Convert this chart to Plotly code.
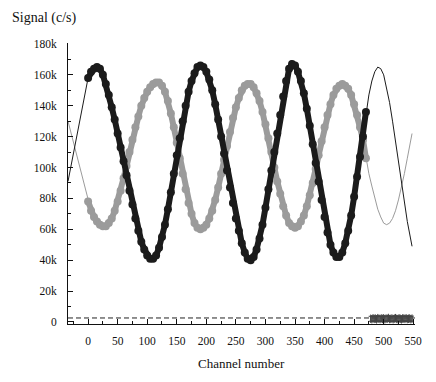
import plotly.graph_objects as go

# channel grid of the measured points (every 5 channels)
channels = list(range(0, 475, 5))

# measured signal, k c/s
black_signal = [158, 162, 164, 165, 164, 160, 154, 147, 139, 131,
                122, 113, 104, 95, 85, 76, 67, 59, 52, 47,
                43, 41, 41, 43, 48, 55, 63, 73, 84, 96,
                108, 119, 130, 140, 149, 156, 161, 165, 166, 165,
                162, 157, 150, 141, 131, 120, 109, 98, 87, 77,
                67, 59, 51, 45, 41, 40, 42, 47, 54, 63,
                74, 86, 98, 110, 122, 134, 146, 156, 164, 167,
                166, 162, 156, 148, 138, 127, 115, 103, 91, 79,
                68, 58, 50, 45, 42, 42, 45, 51, 59, 69,
                81, 94, 107, 120, 136]
gray_signal = [78, 72, 68, 65, 63, 62, 62, 64, 67, 72,
               78, 85, 93, 101, 110, 118, 126, 133, 140, 145,
               149, 152, 154, 155, 155, 153, 149, 143, 135, 126,
               116, 106, 96, 86, 77, 70, 64, 61, 60, 61,
               63, 67, 72, 79, 87, 96, 105, 114, 123, 132,
               139, 145, 150, 153, 154, 154, 152, 148, 143, 136,
               128, 119, 110, 100, 91, 83, 75, 69, 64, 62,
               61, 62, 65, 69, 75, 82, 90, 99, 108, 117,
               126, 134, 141, 147, 151, 153, 154, 153, 151, 147,
               141, 134, 126, 118, 106]

# fitted curves outside the measured range
fit_left_ch = [-34]
black_fit_left = [91]
gray_fit_left = [130]
fit_right_ch = [475, 480, 485, 490, 495, 500, 505, 510, 515, 520,
                525, 530, 535, 540, 545, 548]
black_fit_right = [147, 156, 162, 165, 164, 160, 152, 142, 130, 117,
                   103, 89, 76, 65, 55, 49]
gray_fit_right = [96, 88, 80, 73, 68, 64, 63, 64, 67, 72,
                  79, 87, 96, 106, 116, 122]

# background channels near zero
resid_ch = list(range(478, 550, 2))
resid_signal = [2.1, 1.8, 2.4, 2.0, 2.2, 1.7, 2.5, 2.1, 1.9, 2.3,
                2.0, 2.4, 1.8, 2.2, 2.1, 2.6, 1.9, 2.0, 2.3, 1.8,
                2.2, 2.5, 2.0, 1.9, 2.4, 2.1, 1.7, 2.3, 2.2, 2.0,
                2.4, 1.9, 2.1, 2.3, 1.8, 2.2]
resid_err = 1.6
baseline_level = 2.6

y_ticks = list(range(0, 181, 20))
y_labels = ["0"] + [f"{v}k" for v in y_ticks[1:]]
x_ticks = list(range(0, 551, 50))

BLACK = "#1b1b1b"
GRAY = "#9b9b9b"
FONT = "Liberation Serif"

k = 1000
fig = go.Figure()

fig.add_trace(go.Scatter(
    x=[-34, 553], y=[baseline_level * k] * 2, mode="lines",
    line=dict(color="#222", width=1, dash="5px,3px"), hoverinfo="skip"))

# thin fitted lines (hidden under the markers in the middle)
fig.add_trace(go.Scatter(
    x=fit_left_ch + channels + fit_right_ch,
    y=[v * k for v in gray_fit_left + gray_signal + gray_fit_right],
    mode="lines", line=dict(color=GRAY, width=1)))
fig.add_trace(go.Scatter(
    x=fit_left_ch + channels + fit_right_ch,
    y=[v * k for v in black_fit_left + black_signal + black_fit_right],
    mode="lines", line=dict(color=BLACK, width=1)))

fig.add_trace(go.Scatter(
    x=channels, y=[v * k for v in gray_signal], mode="lines+markers",
    line=dict(color=GRAY, width=6), marker=dict(color=GRAY, size=8)))
fig.add_trace(go.Scatter(
    x=channels, y=[v * k for v in black_signal], mode="lines+markers",
    line=dict(color=BLACK, width=6), marker=dict(color=BLACK, size=8)))

fig.add_trace(go.Scatter(
    x=resid_ch, y=[v * k for v in resid_signal], mode="markers",
    marker=dict(color="#444", size=6, symbol="line-ns-open", line=dict(width=1, color="#444")),
    error_y=dict(type="constant", value=resid_err * k, color="#444", thickness=1, width=2)))

fig.update_layout(
    width=436, height=382, showlegend=False,
    plot_bgcolor="white", paper_bgcolor="white",
    margin=dict(l=60, r=29, t=35, b=66),
    font=dict(family=FONT, size=11.5, color="#111"),
    annotations=[
        dict(text="Signal (c/s)", xref="paper", yref="paper", x=-0.167, y=1.089,
             xanchor="left", yanchor="middle", showarrow=False,
             font=dict(family=FONT, size=14, color="#111")),
        dict(text="Channel number", xref="paper", yref="paper", x=0.501, y=-0.139,
             xanchor="center", yanchor="middle", showarrow=False,
             font=dict(family=FONT, size=13, color="#111")),
    ],
)
fig.update_xaxes(
    range=[-34, 553], tickvals=x_ticks, ticks="inside", ticklen=5, tickcolor="#111",
    showline=True, linecolor="#111", linewidth=1, showgrid=False, zeroline=False,
    ticklabelstandoff=6,
    minor=dict(ticks="inside", dtick=25, tick0=0, ticklen=3, tickcolor="#111", showgrid=False))
fig.update_yaxes(
    range=[-1300, 180600], tickvals=[v * k for v in y_ticks], ticktext=y_labels,
    ticks="inside", ticklen=5, tickcolor="#111",
    showline=True, linecolor="#111", linewidth=1, showgrid=False, zeroline=False,
    ticklabelstandoff=8,
    minor=dict(ticks="inside", dtick=10 * k, tick0=0, ticklen=3, tickcolor="#111", showgrid=False))

fig.write_html("out.html")
